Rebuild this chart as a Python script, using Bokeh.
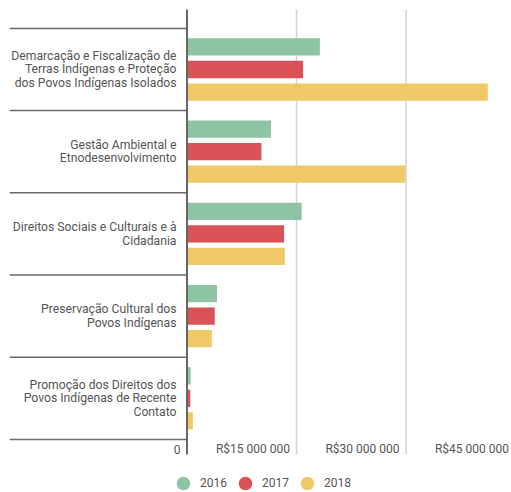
import math
from bokeh.plotting import figure
from bokeh.models import Range1d, ColumnDataSource, LabelSet, Legend, LegendItem
from bokeh.core.properties import value
from bokeh.embed import file_html
from bokeh.resources import INLINE

# ---- data ----
categories = [
    "Demarcação e Fiscalização de\nTerras Indígenas e Proteção\ndos Povos Indígenas Isolados",
    "Gestão Ambiental e\nEtnodesenvolvimento",
    "Direitos Sociais e Culturais e à\nCidadania",
    "Preservação Cultural dos\nPovos Indígenas",
    "Promoção dos Direitos dos\nPovos Indígenas de Recente\nContato",
]
years = ["2016", "2017", "2018"]
values_2016 = [18.2e6, 11.5e6, 15.7e6, 4.1e6, 0.5e6]
values_2017 = [15.9e6, 10.2e6, 13.3e6, 3.8e6, 0.45e6]
values_2018 = [41.2e6, 29.9e6, 13.4e6, 3.4e6, 0.8e6]
x_ticks = [0, 15e6, 30e6, 45e6]
x_tick_labels = ["0", "R$15 000 000", "R$30 000 000", "R$45 000 000"]

# ---- style ----
colors = ["#8ec3a4", "#db5256", "#eec966"]
FONT = "Roboto"
TEXT_COLOR = "#555555"

W, H = 511, 492
p = figure(width=W, height=H, output_backend="svg", toolbar_location=None,
           x_range=Range1d(-25.55e6, 44.45e6), y_range=Range1d(5.146, -0.8394),
           x_axis_location=None, y_axis_location=None, min_border=0,
           outline_line_color=None, background_fill_color="white")
p.grid.visible = False

n = len(categories)
idx = list(range(n))
top = -0.73
bottom = 4.685

# vertical gridlines
p.segment(x0=x_ticks[1:], x1=x_ticks[1:], y0=[top] * 3, y1=[bottom] * 3,
          line_color="#d2d2d2", line_width=1.5)

# category separators
sep_y = [i - 0.5 for i in range(n + 1)]
p.segment(x0=[-24.3e6] * len(sep_y), x1=[0] * len(sep_y), y0=sep_y, y1=sep_y,
          line_color="#6a6a6a", line_width=1.5)

# bars
offsets = [-0.274, 0.0, 0.274]
series = [values_2016, values_2017, values_2018]
for vals, off, col in zip(series, offsets, colors):
    src = ColumnDataSource(dict(y=[i + off for i in idx], right=vals))
    p.hbar(y="y", right="right", left=0, height=0.21, source=src,
           fill_color=col, line_color=None)

# y axis line
p.segment(x0=[0], x1=[0], y0=[top], y1=[bottom], line_color="#666666", line_width=2)

# category labels
p.text(x=[0] * n, y=idx, text=categories, x_offset=-10.5,
       text_align="right", text_baseline="middle", text_font=value(FONT),
       text_font_size="12.2px", text_color=TEXT_COLOR, text_line_height=0.97)

# x tick labels
tick_src = ColumnDataSource(dict(x=x_ticks, y=[4.617] * len(x_ticks), t=x_tick_labels))
p.add_layout(LabelSet(x="x", y="y", text="t", source=tick_src, x_offset=-6.5,
                      text_align="right", text_baseline="middle",
                      text_font=value(FONT), text_font_size="12px",
                      text_color=TEXT_COLOR))

# legend proxies
items = []
for yr, col in zip(years, colors):
    r = p.scatter(x=[math.nan], y=[math.nan], marker="circle", size=13,
                  fill_color=col, line_color=None)
    items.append(LegendItem(label=yr, renderers=[r]))
legend = Legend(items=items, orientation="horizontal", location=(166, -8),
                glyph_width=34, glyph_height=34, label_standoff=0, spacing=1,
                padding=0, margin=0, border_line_color=None, background_fill_alpha=0,
                label_text_font=FONT, label_text_font_size="12px",
                label_text_color=TEXT_COLOR)
p.add_layout(legend, "center")

open("out.html", "w").write(file_html(p, INLINE))
